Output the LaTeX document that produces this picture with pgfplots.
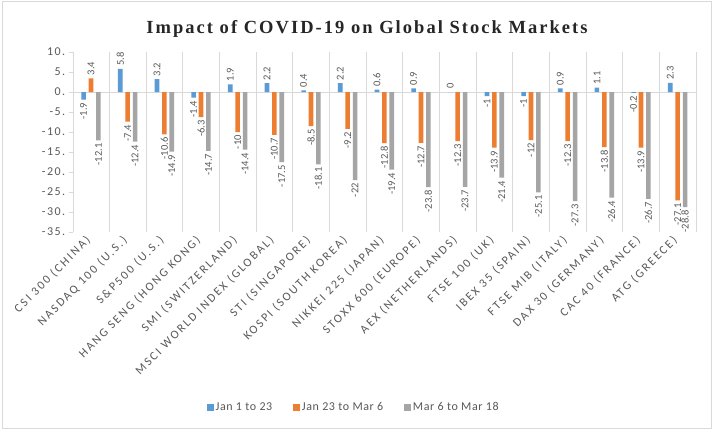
\documentclass[border=0pt]{standalone}
\usepackage{pgfplots}
\usepackage{pgfplotstable}
\pgfplotsset{compat=1.18}
\usepackage{fontspec}
\setmainfont{Carlito}
\newfontfamily\catfont[LetterSpace=17]{Carlito}
\newfontfamily\tickfont[LetterSpace=12]{Carlito}
\newfontfamily\legfont[LetterSpace=5]{Carlito}
\newfontfamily\titlefont[LetterSpace=11]{Liberation Serif}
\definecolor{cblue}{HTML}{5B9BD5}
\definecolor{corange}{HTML}{ED7D31}
\definecolor{cgray}{HTML}{A5A5A5}
\definecolor{txt}{HTML}{595959}
\definecolor{gridc}{HTML}{D9D9D9}

\pgfplotstableread{
x a b c
0 -1.9 3.4 -12.1
1 5.8 -7.4 -12.4
2 3.2 -10.6 -14.9
3 -1.4 -6.3 -14.7
4 1.9 -10 -14.4
5 2.2 -10.7 -17.5
6 0.4 -8.5 -18.1
7 2.2 -9.2 -22
8 0.6 -12.8 -19.4
9 0.9 -12.7 -23.8
10 0 -12.3 -23.7
11 -1 -13.9 -21.4
12 -1 -12 -25.1
13 0.9 -12.3 -27.3
14 1.1 -13.8 -26.4
15 -0.2 -13.9 -26.7
16 2.3 -27.1 -28.8
}\data

\begin{document}
\begin{tikzpicture}
\useasboundingbox (0,0) rectangle (714pt,431pt);
\fill[white] (0,0) rectangle (714pt,431pt);
\draw[gridc, line width=1pt] (2.5pt,2.5pt) rectangle (711.5pt,429pt);
\node[anchor=base, font=\titlefont\bfseries\fontsize{18.5}{20}\selectfont, text=black!85, inner sep=0pt] at (367pt,397.7pt) {Impact of COVID-19 on Global Stock Markets};
\begin{axis}[
  at={(72.7pt,199pt)}, anchor=south west,
  scale only axis, width=623.3pt, height=180pt,
  xmin=-0.5, xmax=16.5, ymin=-35, ymax=10,
  ybar=2.8pt, bar width=4.6pt,
  axis x line*=bottom, axis y line*=left,
  x axis line style={draw=none},
  y axis line style={draw=gridc},
  xtick={0,...,16},
  xticklabels={CSI 300 (CHINA),NASDAQ 100 (U.S.),S\&P500 (U.S.),HANG SENG (HONG KONG),SMI (SWITZERLAND),MSCI WORLD INDEX (GLOBAL),STI (SINGAPORE),KOSPI (SOUTH KOREA),NIKKEI 225 (JAPAN),STOXX 600 (EUROPE),AEX (NETHERLANDS),FTSE 100 (UK),IBEX 35 (SPAIN),FTSE MIB (ITALY),DAX 30 (GERMANY),CAC 40 (FRANCE),ATG (GREECE)},
  xtick style={draw=none},
  minor xtick={-0.5,0.5,...,16.5},
  xminorgrids, minor grid style={draw=gridc},
  minor tick length=0pt,
  ytick={-35,-30,...,10},
  yticklabels={-35.,-30.,-25.,-20.,-15.,-10.,-5.,0.,5.,10.},
  ytick style={draw=gridc},
  tick align=outside, major tick length=4pt,
  xticklabel style={rotate=45, anchor=east, font=\catfont\fontsize{12}{12}\selectfont, text=txt},
  yticklabel style={font=\tickfont\fontsize{12}{12}\selectfont, text=txt},
  visualization depends on={rawy \as \rawy},
  nodes near coords={\pgfmathprintnumber[assume math mode=true]{\pgfplotspointmeta}},
  every node near coord/.append style={rotate=90, anchor={\ifdim\rawy pt<0pt east\else west\fi}, font=\fontsize{10.5}{10.5}\selectfont, text=txt, inner sep=3pt},
  legend style={at={(0.451,-0.975)}, anchor=center, draw=none, legend columns=3, font=\legfont\fontsize{12}{12}\selectfont, text=txt, /tikz/every even column/.append style={column sep=19pt}},
  legend image code/.code={\fill[#1] (0pt,-3.3pt) rectangle (6.6pt,3.3pt);},
]
\draw[gridc] (axis cs:-0.5,0) -- (axis cs:16.5,0);
\addplot[fill=cblue, draw=none] table[x=x,y=a]{\data};
\addplot[fill=corange, draw=none] table[x=x,y=b]{\data};
\addplot[fill=cgray, draw=none] table[x=x,y=c]{\data};
\legend{Jan 1 to 23,Jan 23 to Mar 6,Mar 6 to Mar 18}
\end{axis}
\end{tikzpicture}
\end{document}
